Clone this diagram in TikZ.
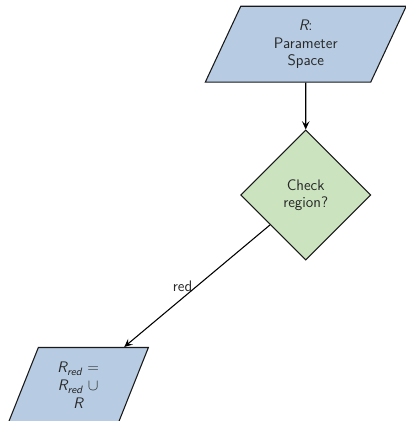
\documentclass[tikz,border=0pt]{standalone}
\usepackage{tikz}
\usetikzlibrary{shapes.geometric, arrows.meta, positioning}
\usepackage{xcolor}
\usepackage{amsmath}
\renewcommand{\familydefault}{\sfdefault}
\definecolor{iocolor}{RGB}{183,204,226}
\definecolor{decisioncolor}{RGB}{203,228,191}
\definecolor{bordercolor}{RGB}{25,25,25}
\definecolor{arrowcolor}{RGB}{0,0,0}
\definecolor{textcolor}{RGB}{40,40,40}
\newcommand{\setR}{\textit{R}}
\newcommand{\setRred}{\textit{R}_{\textit{red}}}

\begin{document}
\begin{tikzpicture}[
  % Node styles
  iobox/.style={
    trapezium,
    trapezium left angle=71,
    trapezium right angle=109,
    trapezium stretches=true,
    draw=bordercolor,
    line width=0.8pt,
    fill=iocolor,
    text=textcolor,
    align=center,
    minimum height=2.01cm,
    font=\fontsize{11.5}{13.5}\selectfont\sffamily,
    inner sep=2pt
  },
  decision/.style={
    diamond,
    draw=bordercolor,
    line width=0.8pt,
    fill=decisioncolor,
    text=textcolor,
    aspect=1,
    align=center,
    minimum width=3.44cm,
    minimum height=3.44cm,
    font=\fontsize{11.5}{13}\selectfont\sffamily,
    inner sep=1pt
  },
  arrow/.style={
    -{Stealth[length=2.2mm, width=2mm, inset=0.9mm]},
    line width=0.8pt,
    draw=arrowcolor
  }
]
\useasboundingbox (0,0) rectangle (10.72,-11.14);

% ===== NODES =====
\node[iobox, minimum width=5.34cm] (space) at (8.09,-1.17) {$\setR$:\\Parameter\\Space};

\node[decision] (check) at (8.09,-5.16) {Check\\region?};

\node[iobox, minimum width=3.73cm] (redset) at (2.07,-10.2) {$\setRred$ =\\$\setRred$ $\cup$\\$\setR$};

% ===== ARROWS =====
\draw[arrow] (space) -- (check);
\draw[arrow] (check) -- node[midway, left, text=textcolor, font=\fontsize{11.5}{13}\selectfont\sffamily] {red} (redset);

\end{tikzpicture}
\end{document}
